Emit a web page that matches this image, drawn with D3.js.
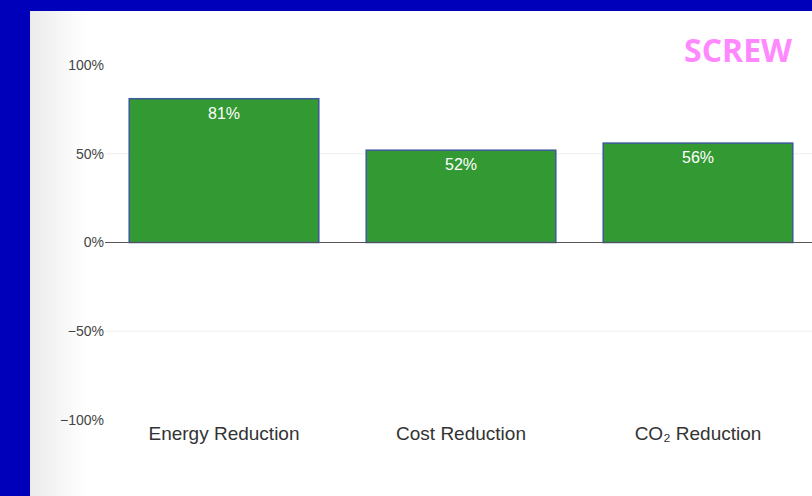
<!DOCTYPE html>
<html>
<head>
<meta charset="utf-8">
<script src="https://cdn.jsdelivr.net/npm/d3@7"></script>
<style>
  html, body { margin: 0; padding: 0; background: #0000bb; }
  svg { display: block; }
</style>
</head>
<body>
<svg id="chart" width="812" height="496"></svg>
<script>
// Savings achieved by the screw compressor upgrade
const categories = ["Energy Reduction", "Cost Reduction", "CO\u2082 Reduction"];
const values = [81, 52, 56];
const yTicks = [-100, -50, 0, 50, 100];
const title = "SCREW";

const svg = d3.select("#chart");
const W = 812, H = 496;

// white panel with soft grey fade on its left edge
const defs = svg.append("defs");
const grad = defs.append("linearGradient").attr("id", "fade")
  .attr("x1", "0%").attr("x2", "100%").attr("y1", "0%").attr("y2", "0%");
grad.append("stop").attr("offset", "0%").attr("stop-color", "#ebebeb");
grad.append("stop").attr("offset", "100%").attr("stop-color", "#ffffff");

svg.append("rect").attr("x", 0).attr("y", 0).attr("width", W).attr("height", H).attr("fill", "#0000bb");
svg.append("rect").attr("x", 30).attr("y", 11).attr("width", W - 30).attr("height", H - 11).attr("fill", "#ffffff");
svg.append("rect").attr("x", 30).attr("y", 11).attr("width", 55).attr("height", H - 11).attr("fill", "url(#fade)");

const x = d3.scaleBand().domain(categories).range([105.5, 816.5]).paddingInner(0.2).paddingOuter(0.1);
const y = d3.scaleLinear().domain([-100, 100]).range([420, 65]);

const fmt = v => (v < 0 ? "\u2212" : "") + Math.abs(v) + "%";

// gridlines at the intermediate ticks
svg.append("g").selectAll("line").data(yTicks.filter(t => t === 50 || t === -50)).join("line")
  .attr("x1", 105).attr("x2", W)
  .attr("y1", d => y(d)).attr("y2", d => y(d))
  .attr("stroke", "#eeeeee").attr("stroke-width", 1);

// y axis labels
const yAxis = d3.axisLeft(y).tickValues(yTicks).tickFormat(fmt).tickSize(0).tickPadding(0);
const ya = svg.append("g").attr("transform", "translate(104,0)").call(yAxis);
ya.select(".domain").remove();
ya.selectAll("text").attr("font-family", "Arial, 'Liberation Sans', sans-serif")
  .attr("font-size", 14).attr("fill", "#444");

// bars
svg.append("g").selectAll("rect").data(values).join("rect")
  .attr("x", (d, i) => x(categories[i]))
  .attr("width", x.bandwidth())
  .attr("y", d => y(Math.max(0, d)))
  .attr("height", d => Math.abs(y(d) - y(0)))
  .attr("fill", "#339933")
  .attr("stroke", "#3d5a9a").attr("stroke-width", 1.5);

// zero line
svg.append("line").attr("x1", 105).attr("x2", W).attr("y1", y(0)).attr("y2", y(0))
  .attr("stroke", "#555").attr("stroke-width", 1);

// value labels inside bar tops
svg.append("g").selectAll("text").data(values).join("text")
  .attr("x", (d, i) => x(categories[i]) + x.bandwidth() / 2)
  .attr("y", d => y(d) + 20)
  .attr("text-anchor", "middle")
  .attr("font-family", "Arial, 'Liberation Sans', sans-serif")
  .attr("font-size", 16).attr("fill", "#ffffff")
  .text(d => d + "%");

// category labels
svg.append("g").selectAll("text").data(categories).join("text")
  .attr("x", d => x(d) + x.bandwidth() / 2)
  .attr("y", 440)
  .attr("text-anchor", "middle")
  .attr("font-family", "Arial, 'Liberation Sans', sans-serif")
  .attr("font-size", 19).attr("fill", "#333")
  .text(d => d);

// title
svg.append("text").attr("x", 738).attr("y", 62).attr("text-anchor", "middle")
  .attr("font-family", "'Open Sans', sans-serif").attr("font-weight", 700)
  .attr("font-size", 32).attr("fill", "#ff88ff")
  .text(title);
</script>
</body>
</html>
